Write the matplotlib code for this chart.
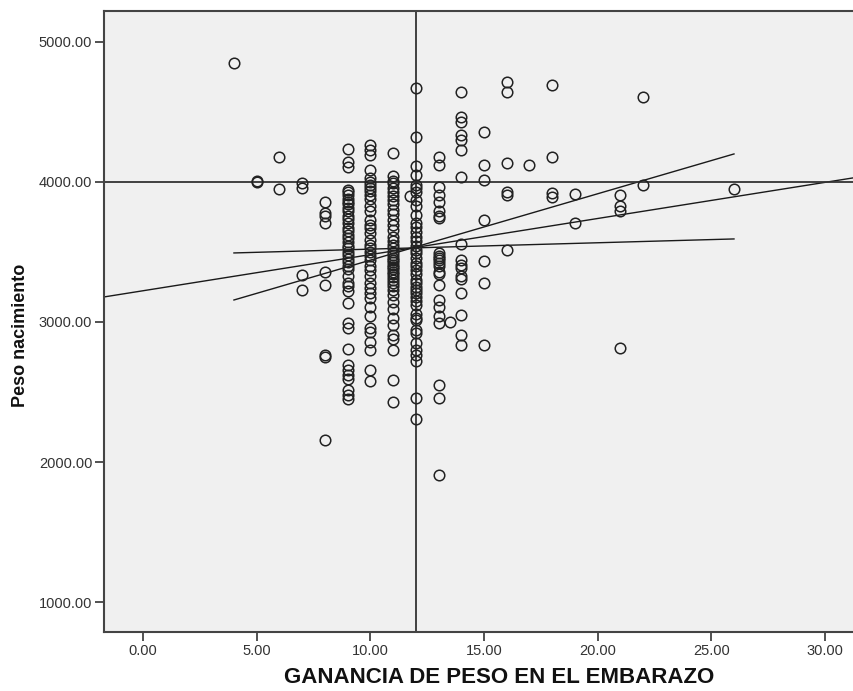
import numpy as np
import matplotlib
matplotlib.use("Agg")
import matplotlib.pyplot as plt

plt.rcParams['font.family'] = ['Liberation Sans', 'DejaVu Sans']

# birth weight (g) observed at each weight-gain value (kg)
w_04 = [4850]
w_05 = [4005, 4000]
w_06 = [4180, 3950]
w_07 = [3990, 3955, 3335, 3230]
w_08 = [3860, 3775, 3760, 3710, 3355, 3265, 2765, 2750, 2155]
w_09 = [4235, 4145, 4110, 3945, 3925, 3905, 3880, 3860, 3840, 3815, 3790, 3760,
        3735, 3705, 3670, 3650, 3620, 3600, 3570, 3545, 3525, 3500, 3475, 3450,
        3425, 3400, 3375, 3325, 3280, 3255, 3220, 3135, 2990, 2955, 2810, 2690,
        2655, 2620, 2595, 2515, 2480, 2450]
w_10 = [4265, 4230, 4195, 4085, 4030, 4000, 3975, 3955, 3935, 3910, 3880, 3825,
        3790, 3730, 3695, 3670, 3635, 3585, 3550, 3525, 3500, 3470, 3440, 3400,
        3370, 3325, 3280, 3245, 3205, 3170, 3110, 3040, 2955, 2930, 2860, 2800,
        2660, 2575]
w_11 = [4205, 4040, 4010, 3990, 3960, 3930, 3900, 3870, 3840, 3800, 3770, 3730,
        3690, 3660, 3610, 3575, 3550, 3525, 3500, 3480, 3460, 3445, 3430, 3410,
        3390, 3375, 3360, 3340, 3320, 3300, 3280, 3255, 3230, 3195, 3145, 3090,
        3025, 2980, 2910, 2880, 2800, 2585, 2425]
w_11_75 = [3900]
w_12 = [4670, 4320, 4115, 4050, 3980, 3955, 3930, 3870, 3825, 3765, 3705, 3680,
        3640, 3610, 3575, 3545, 3515, 3490, 3455, 3420, 3400, 3370, 3345, 3300,
        3275, 3250, 3230, 3210, 3180, 3150, 3120, 3060, 3030, 3015, 2945, 2920,
        2850, 2800, 2765, 2720, 2455, 2310]
w_13 = [4180, 4120, 3965, 3905, 3860, 3790, 3760, 3745, 3490, 3470, 3455, 3440,
        3420, 3400, 3360, 3345, 3265, 3155, 3110, 3040, 2990, 2550, 2455, 1905]
w_13_5 = [3000]
w_14 = [4640, 4465, 4430, 4335, 4300, 4230, 4035, 3560, 3445, 3410, 3385, 3325,
        3310, 3205, 3050, 2905, 2835]
w_15 = [4360, 4120, 4015, 3730, 3435, 3275, 2835]
w_16 = [4715, 4640, 4135, 3930, 3905, 3515]
w_17 = [4120]
w_18 = [4695, 4180, 3920, 3895]
w_19 = [3915, 3705]
w_21 = [3905, 3825, 3790, 2815]
w_22 = [4605, 3980]
w_26 = [3950]

gains = [4, 5, 6, 7, 8, 9, 10, 11, 11.75, 12, 13, 13.5, 14, 15, 16, 17, 18, 19, 21, 22, 26]
weights = [w_04, w_05, w_06, w_07, w_08, w_09, w_10, w_11, w_11_75, w_12, w_13,
           w_13_5, w_14, w_15, w_16, w_17, w_18, w_19, w_21, w_22, w_26]

# fit lines
total_fit = (3223, 25.8)          # intercept, slope
fit_a_x = [4, 26]
fit_a_y = [3157, 4200]
fit_b_x = [4, 26]
fit_b_y = [3493, 3593]

ref_x = 12
ref_y = 4000

x_ticks = [0, 5, 10, 15, 20, 25, 30]
y_ticks = [1000, 2000, 3000, 4000, 5000]

fig = plt.figure(figsize=(8.54, 6.91), dpi=100)
ax = fig.add_axes([0.1218, 0.0854, 0.8782, 0.8987])
ax.set_facecolor('#f0f0f0')

xs = []
ys = []
for g, ws in zip(gains, weights):
    xs += [g] * len(ws)
    ys += ws
ax.plot(xs, ys, linestyle='none', marker='o', ms=7.6, mfc='none',
        mec='#222222', mew=1.1, zorder=3)

ax.axline((0, total_fit[0]), slope=total_fit[1], color='#1a1a1a', lw=1.0, zorder=2)
ax.plot(fit_a_x, fit_a_y, color='#1a1a1a', lw=1.0, zorder=2)
ax.plot(fit_b_x, fit_b_y, color='#1a1a1a', lw=1.0, zorder=2)
ax.axvline(ref_x, color='#333333', lw=1.3, zorder=2)
ax.axhline(ref_y, color='#333333', lw=1.3, zorder=2)

ax.set_xlim(-1.716, 31.28)
ax.set_ylim(786, 5221)
ax.set_xticks(x_ticks)
ax.set_xticklabels([f"{v:.2f}" for v in x_ticks])
ax.set_yticks(y_ticks)
ax.set_yticklabels([f"{v:.2f}" for v in y_ticks])
ax.tick_params(axis='both', direction='out', length=6.5, width=1.2,
               colors='#333333', labelsize=10.5, pad=2)

for side in ['left', 'bottom', 'top']:
    ax.spines[side].set_color('#444444')
    ax.spines[side].set_linewidth(1.5)
ax.spines['right'].set_visible(False)

ax.set_xlabel('GANANCIA DE PESO EN EL EMBARAZO', fontsize=16, fontweight='bold',
              color='#111111', va='center')
ax.xaxis.set_label_coords(0.527, -0.074)
ax.set_ylabel('Peso nacimiento', fontsize=13, fontweight='bold', color='#111111',
              va='center')
ax.yaxis.set_label_coords(-0.112, 0.477)

fig.savefig('out.png', dpi=100)
